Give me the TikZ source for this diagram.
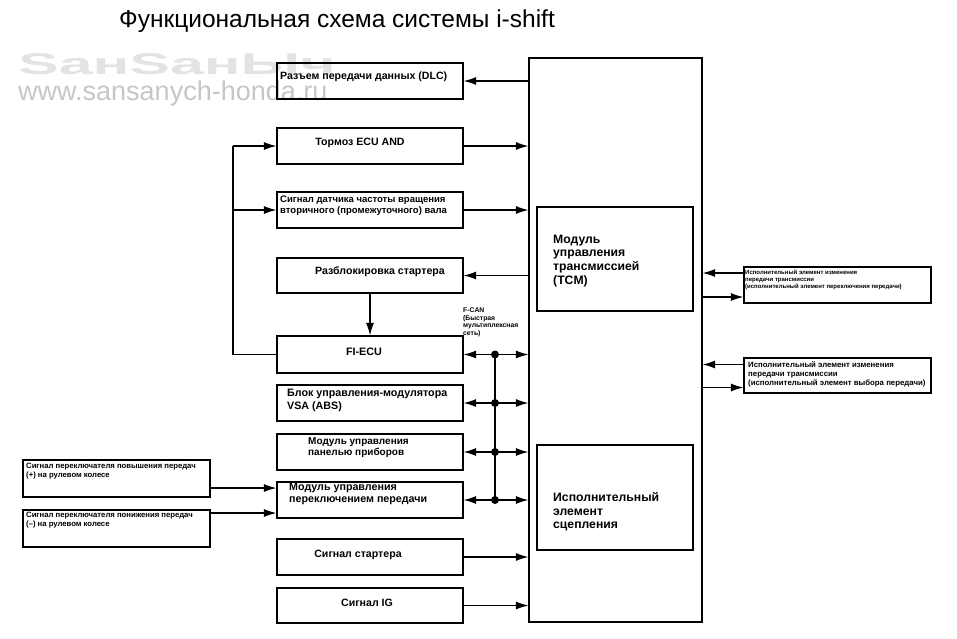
\documentclass[tikz,border=0pt]{standalone}
\usepackage{fontspec}
\setmainfont{Liberation Sans}
\usetikzlibrary{arrows.meta,calc}
\newcommand{\fsz}[2]{\bfseries\fontsize{#1}{#2}\selectfont}
\begin{document}
\begin{tikzpicture}[x=1pt,y=-1pt,
 box/.style={draw, line width=1.2pt, inner sep=0pt, minimum width=186pt, minimum height=36pt},
 lbl/.style={inner sep=0pt, align=left},
 arr/.style={line width=1.2pt, -{Latex[length=12.5pt,width=8pt]}},
 arrb/.style={line width=1.2pt, {Latex[length=12.5pt,width=8pt]}-{Latex[length=12.5pt,width=8pt]}},
 ln/.style={line width=1.2pt}]
\useasboundingbox (0,0) rectangle (957,638);
% title
\node[anchor=base west, inner sep=0pt, font=\fontsize{24.5}{28}\selectfont] (title) at (119,27) {Функциональная схема системы i-shift};
% watermark
\node[anchor=base west, inner sep=0pt, text=gray!22, font=\fsz{30}{32}] (wm1) at (18,74) {\scalebox{2.03}[1]{SанSанЫч}};
\node[anchor=base west, inner sep=0pt, text=gray!45, font=\fontsize{27}{30}\selectfont] (wm2) at (18,100) {www.sansanych-honda.ru};
% big boxes
\node[draw, line width=1.2pt, inner sep=0pt, minimum width=173pt, minimum height=564pt] (big) at (615.5,340) {};
\node[draw, line width=1.2pt, inner sep=0pt, minimum width=156pt, minimum height=104pt] (tcm) at (615,259) {};
\node[draw, line width=1.2pt, inner sep=0pt, minimum width=156pt, minimum height=105pt] (clutch) at (615,497.5) {};
% left column boxes
\node[box] (dlc) at (370,81) {};
\node[box] (brake) at (370,146) {};
\node[box] (sensor) at (370,210) {};
\node[box, minimum height=35pt] (unlock) at (370,275.5) {};
\node[box, minimum height=37pt] (fi) at (370,354.5) {};
\node[box] (vsa) at (370,403) {};
\node[box] (panel) at (370,452) {};
\node[box] (shift) at (370,500) {};
\node[box] (starter) at (370,557) {};
\node[box, minimum height=35pt] (ig) at (370,605.5) {};
\node[box, minimum width=187pt, minimum height=37pt] (up) at (116.5,478.5) {};
\node[box, minimum width=187pt, minimum height=37pt] (down) at (116.5,528.5) {};
\node[box, minimum width=187pt] (r1) at (837.5,285) {};
\node[box, minimum width=187pt, minimum height=35pt] (r2) at (837.5,375.5) {};
% texts
\node[lbl, anchor=base west, font=\fsz{10.6}{12}] (dlct) at (280,79.5) {Разъем передачи данных (DLC)};
\node[lbl, anchor=base, font=\fsz{10.6}{12}] (braket) at (360,145.5) {Тормоз ECU AND};
\node[lbl, anchor=north west, font=\fsz{9.5}{11}] (sensort) at (280,195.5) {Сигнал датчика частоты вращения\\вторичного (промежуточного) вала};
\node[lbl, anchor=base, font=\fsz{10.6}{12}] (unlockt) at (380,274.5) {Разблокировка стартера};
\node[lbl, anchor=base, font=\fsz{10.8}{12}] (fit) at (364,355.6) {FI-ECU};
\node[lbl, anchor=north west, font=\fsz{10.7}{13}] (vsat) at (287,389) {Блок управления-модулятора\\VSA (ABS)};
\node[lbl, anchor=north west, font=\fsz{10}{11.5}] (panelt) at (308,437.3) {Модуль управления\\панелью приборов};
\node[lbl, anchor=north west, font=\fsz{10.7}{12}] (shiftt) at (289,483) {Модуль управления\\переключением передачи};
\node[lbl, anchor=base, font=\fsz{10.6}{12}] (startert) at (358,557.5) {Сигнал стартера};
\node[lbl, anchor=base, font=\fsz{10.6}{12}] (igt) at (367,606.5) {Сигнал IG};
\node[lbl, anchor=north west, font=\fsz{12.2}{13.7}] (tcmt) at (553,234.5) {Модуль\\управления\\трансмиссией\\(TCM)};
\node[lbl, anchor=north west, font=\fsz{12.2}{13.5}] (clutcht) at (553,492.5) {Исполнительный\\элемент\\сцепления};
\node[lbl, anchor=north west, font=\fsz{7.7}{8.5}] (upt) at (26,463.2) {Сигнал переключателя повышения передач\\(+) на рулевом колесе};
\node[lbl, anchor=north west, font=\fsz{7.7}{9}] (downt) at (26,512.2) {Сигнал переключателя понижения передач\\(--) на рулевом колесе};
\node[lbl, anchor=north west, font=\fsz{6}{7}] (r1t) at (745,269.8) {Исполнительный элемент изменения\\передачи трансмиссии\\(исполнительный элемент переключения передачи)};
\node[lbl, anchor=north west, font=\fsz{7.8}{9}] (r2t) at (748,361) {Исполнительный элемент изменения\\передачи трансмиссии\\(исполнительный элемент выбора передачи)};
\node[lbl, anchor=north west, font=\fsz{6.8}{7.6}] (fcan) at (463,307.5) {F-CAN\\(Быстрая\\мультиплексная\\сеть)};
% connectors to/from TCM box
\draw[arr] (big.west |- dlc.east) -- (dlc.east);
\draw[arr] (brake.east) -- (big.west |- brake.east);
\draw[arr] (sensor.east) -- (big.west |- sensor.east);
\draw[arr] (big.west |- unlock.east) -- (unlock.east);
\draw[arr] (starter.east) -- (big.west |- starter.east);
\draw[arr] (ig.east) -- (big.west |- ig.east);
\draw[arr] (unlock.south) -- (fi.north);
% left feed from FI-ECU
\coordinate (lx) at (233,146);
\draw[ln] (fi.west) -- (lx |- fi.west) -- (lx |- brake.west);
\draw[arr] (lx |- brake.west) -- (brake.west);
\draw[arr] (lx |- sensor.west) -- (sensor.west);
% steering wheel switches
\coordinate (sh1) at ($(shift.west)+(0,-12)$);
\coordinate (sh2) at ($(shift.west)+(0,13)$);
\draw[arr] (up.east |- sh1) -- (sh1);
\draw[arr] (down.east |- sh2) -- (sh2);
% F-CAN bus
\coordinate (bx) at (495,357);
\foreach \n in {fi,vsa,panel,shift}{
  \draw[arrb] (\n.east) -- (big.west |- \n.east);
  \fill (bx |- \n.east) circle (4pt);
}
\draw[ln] (bx |- fi.east) -- (bx |- shift.east);
% right actuators
\draw[arr] ($(r1.west)+(0,-12)$) -- (big.east |- {$(r1.west)+(0,-12)$});
\draw[arr] (big.east |- {$(r1.west)+(0,12)$}) -- ($(r1.west)+(0,12)$);
\draw[arr] ($(r2.west)+(0,-11)$) -- (big.east |- {$(r2.west)+(0,-11)$});
\draw[arr] (big.east |- {$(r2.west)+(0,12)$}) -- ($(r2.west)+(0,12)$);
\end{tikzpicture}
\end{document}
